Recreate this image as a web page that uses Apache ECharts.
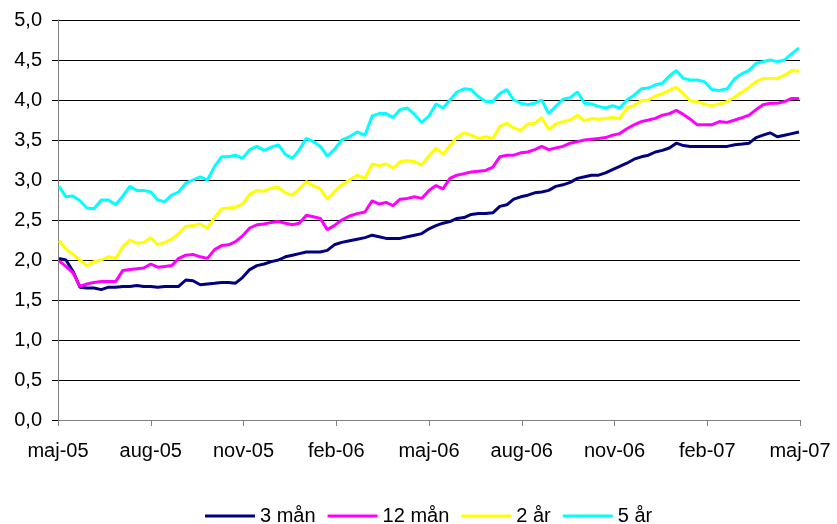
<!DOCTYPE html>
<html>
<head>
<meta charset="utf-8">
<title>Räntor</title>
<script src="https://cdn.jsdelivr.net/npm/echarts@6/dist/echarts.min.js"></script>
<style>
  html, body { margin: 0; padding: 0; background: #fff; }
  #chart { width: 837px; height: 524px; }
</style>
</head>
<body>
<div id="chart"></div>
<script>
// Weekly observations, first Monday of May 2005 onwards
const firstObservation = [2005, 5, 2];
const observationCount = 105;

const tickLabels = ['maj-05', 'aug-05', 'nov-05', 'feb-06', 'maj-06', 'aug-06', 'nov-06', 'feb-07', 'maj-07'];
const seriesNames = ['3 mån', '12 mån', '2 år', '5 år'];

const rate3m = [
  2.02, 2.00, 1.86, 1.66, 1.65, 1.65, 1.63, 1.66, 1.66, 1.67,
  1.67, 1.68, 1.67, 1.67, 1.66, 1.67, 1.67, 1.67, 1.75, 1.74,
  1.69, 1.70, 1.71, 1.72, 1.72, 1.71, 1.78, 1.88, 1.93, 1.95,
  1.98, 2.00, 2.04, 2.06, 2.08, 2.10, 2.10, 2.10, 2.12, 2.19,
  2.22, 2.24, 2.26, 2.28, 2.31, 2.29, 2.27, 2.27, 2.27, 2.29,
  2.31, 2.33, 2.39, 2.43, 2.46, 2.48, 2.52, 2.53, 2.57, 2.58,
  2.58, 2.59, 2.67, 2.69, 2.76, 2.79, 2.81, 2.84, 2.85, 2.87,
  2.92, 2.94, 2.97, 3.02, 3.04, 3.06, 3.06, 3.09, 3.13, 3.17,
  3.21, 3.26, 3.29, 3.31, 3.35, 3.37, 3.40, 3.46, 3.43, 3.42,
  3.42, 3.42, 3.42, 3.42, 3.42, 3.44, 3.45, 3.46, 3.53, 3.56,
  3.59, 3.54, 3.56, 3.58, 3.60
];

const rate12m = [
  1.99, 1.92, 1.84, 1.67, 1.70, 1.72, 1.73, 1.73, 1.73, 1.87,
  1.88, 1.89, 1.90, 1.95, 1.91, 1.92, 1.93, 2.02, 2.06, 2.07,
  2.04, 2.02, 2.13, 2.18, 2.19, 2.23, 2.30, 2.40, 2.44, 2.45,
  2.47, 2.48, 2.46, 2.44, 2.46, 2.56, 2.54, 2.52, 2.38, 2.43,
  2.50, 2.55, 2.58, 2.60, 2.74, 2.70, 2.72, 2.68, 2.76, 2.77,
  2.79, 2.77, 2.87, 2.93, 2.89, 3.02, 3.06, 3.08, 3.10, 3.11,
  3.12, 3.16, 3.29, 3.31, 3.31, 3.34, 3.35, 3.38, 3.42, 3.38,
  3.40, 3.42, 3.46, 3.48, 3.50, 3.51, 3.52, 3.53, 3.56, 3.58,
  3.64, 3.69, 3.73, 3.75, 3.77, 3.81, 3.83, 3.87, 3.82, 3.76,
  3.69, 3.69, 3.69, 3.73, 3.72, 3.75, 3.78, 3.81, 3.88, 3.94,
  3.96, 3.96, 3.98, 4.02, 4.02
];

const rate2y = [
  2.24, 2.14, 2.07, 2.00, 1.93, 1.98, 2.00, 2.04, 2.02, 2.17,
  2.25, 2.21, 2.22, 2.28, 2.19, 2.22, 2.26, 2.33, 2.42, 2.43,
  2.45, 2.40, 2.53, 2.64, 2.65, 2.66, 2.70, 2.82, 2.87, 2.86,
  2.90, 2.91, 2.84, 2.81, 2.89, 2.98, 2.93, 2.89, 2.76, 2.85,
  2.94, 3.00, 3.06, 3.02, 3.20, 3.18, 3.20, 3.15, 3.23, 3.24,
  3.23, 3.19, 3.30, 3.40, 3.32, 3.43, 3.53, 3.59, 3.56, 3.52,
  3.54, 3.52, 3.67, 3.71, 3.65, 3.62, 3.70, 3.71, 3.78, 3.63,
  3.70, 3.73, 3.75, 3.81, 3.74, 3.77, 3.76, 3.77, 3.78, 3.77,
  3.90, 3.93, 3.99, 4.00, 4.05, 4.08, 4.12, 4.16, 4.08, 3.99,
  3.98, 3.95, 3.93, 3.95, 3.98, 4.04, 4.10, 4.16, 4.23, 4.27,
  4.27, 4.27, 4.31, 4.37, 4.36
];

const rate5y = [
  2.92, 2.79, 2.80, 2.74, 2.65, 2.64, 2.75, 2.75, 2.69, 2.80,
  2.92, 2.87, 2.87, 2.85, 2.75, 2.73, 2.81, 2.85, 2.96, 3.00,
  3.04, 3.00, 3.17, 3.29, 3.29, 3.31, 3.27, 3.38, 3.42, 3.37,
  3.41, 3.44, 3.32, 3.27, 3.38, 3.52, 3.48, 3.42, 3.30, 3.38,
  3.50, 3.54, 3.60, 3.56, 3.80, 3.83, 3.83, 3.78, 3.88, 3.90,
  3.82, 3.72, 3.80, 3.95, 3.90, 4.00, 4.10, 4.14, 4.13, 4.04,
  3.98, 3.98, 4.08, 4.13, 4.00, 3.96, 3.94, 3.96, 4.00, 3.83,
  3.92, 4.01, 4.03, 4.10, 3.96, 3.95, 3.92, 3.90, 3.93, 3.90,
  4.00, 4.06, 4.14, 4.15, 4.19, 4.21, 4.30, 4.37, 4.27, 4.25,
  4.25, 4.23, 4.13, 4.12, 4.14, 4.27, 4.33, 4.37, 4.46, 4.48,
  4.50, 4.48, 4.50, 4.58, 4.65
];

const seriesColors = ['#000080', '#FF00FF', '#FFFF00', '#00FFFF'];

// Position on the x axis in months counted from 1 May 2005
function monthPosition(date) {
  const y = date.getUTCFullYear();
  const m = date.getUTCMonth();
  const d = date.getUTCDate();
  const daysInMonth = new Date(Date.UTC(y, m + 1, 0)).getUTCDate();
  return (y - 2005) * 12 + (m - 4) + (d - 1) / daysInMonth;
}

const observationDates = [];
for (let i = 0; i < observationCount; i++) {
  observationDates.push(new Date(Date.UTC(firstObservation[0], firstObservation[1] - 1, firstObservation[2] + 7 * i)));
}
const xPositions = observationDates.map(monthPosition);

const rates = [rate3m, rate12m, rate2y, rate5y];

const font = 'Liberation Sans, Arial, sans-serif';

const chart = echarts.init(document.getElementById('chart'), null, { renderer: 'canvas' });
chart.setOption({
  animation: false,
  backgroundColor: '#ffffff',
  textStyle: { fontFamily: font },
  grid: { left: 58, right: 37, top: 20, bottom: 104, outerBoundsMode: 'none' },
  legend: {
    data: seriesNames.map(n => ({ name: n, icon: 'rect' })),
    left: 200,
    top: 501,
    itemWidth: 50,
    itemHeight: 3,
    itemGap: 12,
    textStyle: { fontSize: 20, color: '#000', fontFamily: font }
  },
  xAxis: {
    type: 'value',
    min: 0,
    max: 24,
    interval: 3,
    axisLine: { show: true, lineStyle: { color: '#808080', width: 1 } },
    axisTick: { show: true, length: 6, lineStyle: { color: '#808080' } },
    splitLine: { show: false },
    axisLabel: {
      margin: 21,
      fontSize: 20,
      color: '#000',
      fontFamily: font,
      formatter: v => tickLabels[Math.round(v / 3)]
    }
  },
  yAxis: {
    type: 'value',
    min: 0,
    max: 5,
    interval: 0.5,
    axisLine: { show: true, lineStyle: { color: '#808080', width: 1 } },
    axisTick: { show: true, length: 6, lineStyle: { color: '#000' } },
    splitLine: { show: true, lineStyle: { color: '#000', width: 1 } },
    axisLabel: {
      margin: 16,
      fontSize: 20,
      color: '#000',
      fontFamily: font,
      formatter: v => v.toFixed(1).replace('.', ',')
    }
  },
  series: seriesNames.map((name, k) => ({
    name: name,
    type: 'line',
    symbol: 'none',
    showSymbol: false,
    smooth: false,
    color: seriesColors[k],
    itemStyle: { color: seriesColors[k] },
    lineStyle: { width: 3, color: seriesColors[k] },
    data: rates[k].map((v, i) => [xPositions[i], v])
  }))
});
</script>
</body>
</html>
